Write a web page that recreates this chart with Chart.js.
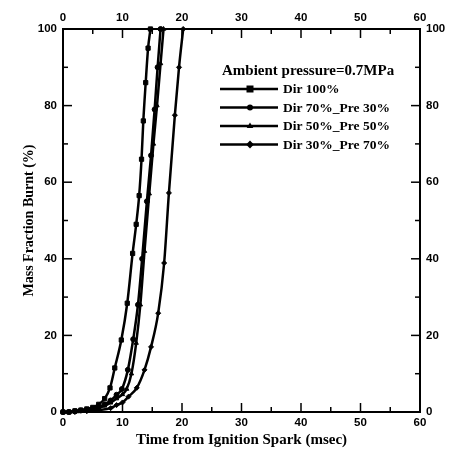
<!DOCTYPE html>
<html><head><meta charset="utf-8">
<script src="https://cdn.jsdelivr.net/npm/chart.js@4/dist/chart.umd.min.js"></script>
<style>html,body{margin:0;padding:0;background:#fff}</style>
</head><body>
<canvas id="c" width="450" height="449" style="width:450px;height:449px;display:block"></canvas>
<script>
// ---- data ----
const chartTitle = 'Ambient pressure=0.7MPa';
const seriesLabels = ['Dir 100%', 'Dir 70%_Pre 30%', 'Dir 50%_Pre 50%', 'Dir 30%_Pre 70%'];
const timeDir100 = [0, 1, 2, 3, 4, 5, 6, 7, 7.9, 8.7, 9.8, 10.8, 11.7, 12.3, 12.8, 13.2, 13.5, 13.9, 14.3, 14.7];
const mfbDir100  = [0, 0, 0.3, 0.5, 0.8, 1.2, 2, 3.5, 6.3, 11.5, 18.8, 28.4, 41.4, 49, 56.5, 66, 76, 86, 95, 100];
const timeDir70  = [0, 1, 2, 3, 4, 5, 6, 7, 8, 9, 9.9, 10.9, 11.8, 12.6, 13.3, 14.1, 14.8, 15.4, 15.9, 16.4];
const mfbDir70   = [0, 0, 0.2, 0.4, 0.6, 0.9, 1.3, 2, 3, 4.5, 6, 11, 19, 28, 40, 55, 67, 79, 90, 100];
const timeDir50  = [0, 1, 2, 3, 4, 5, 6, 7, 8, 9, 10, 10.7, 11.5, 12.3, 13, 13.7, 14.5, 15.2, 15.8, 16.4, 16.9];
const mfbDir50   = [0, 0, 0.1, 0.3, 0.5, 0.8, 1.1, 1.6, 2.4, 3.5, 4.6, 6, 10, 18, 28, 42, 57, 70, 80, 91, 100];
const timeDir30  = [0, 2, 4, 6, 8, 9, 10, 11, 12.4, 13.7, 14.8, 16, 17, 17.8, 18.8, 19.5, 20.2];
const mfbDir30   = [0, 0, 0.2, 0.5, 1, 1.8, 2.5, 4, 6.3, 11, 17, 25.8, 38.9, 57.2, 77.5, 90, 100];
const xTicks = [0, 10, 20, 30, 40, 50, 60];
const yTicks = [0, 20, 40, 60, 80, 100];

const pairs = (xs, ys) => xs.map((x, i) => ({x: x, y: ys[i]}));
const styles = [
  {pointStyle: 'rect', radius: 3},
  {pointStyle: 'circle', radius: 2.5},
  {pointStyle: 'triangle', radius: 2.5},
  {pointStyle: 'rectRot', radius: 2.5}
];
const seriesData = [pairs(timeDir100, mfbDir100), pairs(timeDir70, mfbDir70), pairs(timeDir50, mfbDir50), pairs(timeDir30, mfbDir30)];
const datasets = seriesData.map((d, i) => ({
  label: seriesLabels[i], data: d, borderColor: '#000', backgroundColor: '#000',
  borderWidth: 2.5, pointStyle: styles[i].pointStyle, pointRadius: styles[i].radius,
  pointBorderWidth: 1, cubicInterpolationMode: 'monotone', clip: 6
}));

function drawMarker(ctx, style, r, x, y) {
  ctx.beginPath();
  if (style === 'rect') { ctx.rect(x - r, y - r, 2 * r, 2 * r); }
  else if (style === 'circle') { ctx.arc(x, y, r, 0, Math.PI * 2); }
  else if (style === 'triangle') { ctx.moveTo(x, y - r * 1.2); ctx.lineTo(x + r * 1.1, y + r * 0.7); ctx.lineTo(x - r * 1.1, y + r * 0.7); ctx.closePath(); }
  else { ctx.moveTo(x, y - r * 1.3); ctx.lineTo(x + r * 1.3, y); ctx.lineTo(x, y + r * 1.3); ctx.lineTo(x - r * 1.3, y); ctx.closePath(); }
  ctx.fill();
}

const inwardTicks = {
  id: 'inwardTicks',
  afterDatasetsDraw(chart) {
    const ctx = chart.ctx; const a = chart.chartArea;
    ctx.save(); ctx.strokeStyle = '#000'; ctx.lineWidth = 1.5;
    const sx = chart.scales.x, sy = chart.scales.y;
    for (let v = 0; v <= 60; v += 5) {
      const p = sx.getPixelForValue(v); const len = v % 10 === 0 ? 9 : 5;
      ctx.beginPath(); ctx.moveTo(p, a.bottom); ctx.lineTo(p, a.bottom - len); ctx.stroke();
      ctx.beginPath(); ctx.moveTo(p, a.top); ctx.lineTo(p, a.top + len); ctx.stroke();
    }
    for (let v = 0; v <= 100; v += 10) {
      const p = sy.getPixelForValue(v); const len = v % 20 === 0 ? 9 : 5;
      ctx.beginPath(); ctx.moveTo(a.left, p); ctx.lineTo(a.left + len, p); ctx.stroke();
      ctx.beginPath(); ctx.moveTo(a.right, p); ctx.lineTo(a.right - len, p); ctx.stroke();
    }
    // legend inside plot
    const lx = a.left + 157, ty = a.top + 42;
    ctx.fillStyle = '#000'; ctx.textBaseline = 'middle'; ctx.textAlign = 'left';
    ctx.font = 'bold 15px "Liberation Serif"';
    ctx.fillText(chartTitle, lx + 2, ty);
    ctx.font = 'bold 13.5px "Liberation Serif"';
    seriesLabels.forEach((lab, i) => {
      const yy = ty + 18 + i * 18.5;
      ctx.lineWidth = 2.5; ctx.beginPath(); ctx.moveTo(lx, yy); ctx.lineTo(lx + 58, yy); ctx.stroke();
      drawMarker(ctx, styles[i].pointStyle, styles[i].radius + 0.5, lx + 30, yy);
      ctx.fillText(lab, lx + 63, yy + 1);
    });
    ctx.restore();
  }
};

const tickFont = {family: '"Liberation Sans"', size: 11.5, weight: 'bold'};
const axisCommon = {
  grid: {display: true, drawOnChartArea: false, drawTicks: false},
  border: {display: true, color: '#000', width: 2}
};

new Chart(document.getElementById('c'), {
  type: 'line',
  data: {datasets: datasets},
  options: {
    responsive: false, animation: false, devicePixelRatio: 1,
    layout: {padding: 0},
    plugins: {legend: {display: false}, tooltip: {enabled: false}},
    scales: {
      x: Object.assign({}, axisCommon, {type: 'linear', position: 'bottom', min: 0, max: 60,
        afterBuildTicks: s => { s.ticks = xTicks.map(v => ({value: v})); },
        ticks: {color: '#000', font: tickFont, padding: 4, maxRotation: 0},
        title: {display: true, text: 'Time from Ignition Spark (msec)', color: '#000', font: {family: '"Liberation Serif"', size: 15, weight: 'bold'}, padding: {top: -2, bottom: 0}},
        afterFit: s => { s.height = 37; }}),
      x2: Object.assign({}, axisCommon, {type: 'linear', position: 'top', min: 0, max: 60,
        afterBuildTicks: s => { s.ticks = xTicks.map(v => ({value: v})); },
        ticks: {color: '#000', font: tickFont, padding: 4, maxRotation: 0},
        afterFit: s => { s.height = 29; }}),
      y: Object.assign({}, axisCommon, {type: 'linear', position: 'left', min: 0, max: 100,
        afterBuildTicks: s => { s.ticks = yTicks.map(v => ({value: v})); },
        ticks: {color: '#000', font: tickFont, padding: 6},
        title: {display: true, text: 'Mass Fraction Burnt (%)', color: '#000', font: {family: '"Liberation Serif"', size: 14, weight: 'bold'}, padding: {top: 21, bottom: 0}},
        afterFit: s => { s.width = 63; }}),
      y2: Object.assign({}, axisCommon, {type: 'linear', position: 'right', min: 0, max: 100,
        afterBuildTicks: s => { s.ticks = yTicks.map(v => ({value: v})); },
        ticks: {color: '#000', font: tickFont, padding: 6},
        afterFit: s => { s.width = 30; }})
    }
  },
  plugins: [inwardTicks]
});
</script>
</body></html>
